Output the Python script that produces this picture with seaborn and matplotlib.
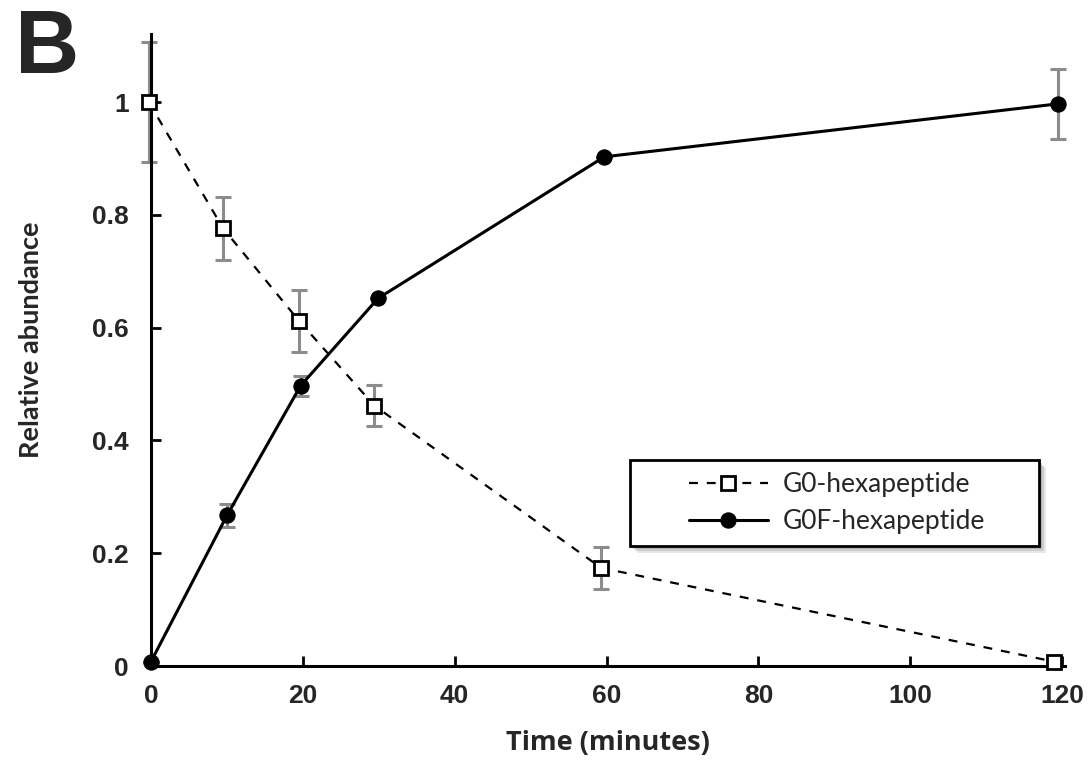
"""Relative abundance of G0 / G0F hexapeptide over time (panel B)."""

import matplotlib
matplotlib.use('Agg')
import numpy as np
import pandas as pd
import seaborn as sns
import matplotlib.pyplot as plt
import matplotlib.patches as patches

# ── Data ──────────────────────────────────────────────────────────────────────

TIME_G0 = [-0.3, 9.5, 19.5, 29.4, 59.3, 118.9]
G0_MEAN = [1.00, 0.776, 0.612, 0.462, 0.174, 0.008]
G0_ERR = [0.107, 0.056, 0.055, 0.037, 0.037, 0.0]

TIME_G0F = [0, 10, 19.7, 29.9, 59.7, 119.5]
G0F_MEAN = [0.008, 0.267, 0.497, 0.652, 0.903, 0.997]
G0F_ERR = [0.0, 0.02, 0.018, 0.0, 0.0, 0.062]

X_TICKS = [0, 20, 40, 60, 80, 100, 120]
Y_TICKS = [0, 0.2, 0.4, 0.6, 0.8, 1.0]
Y_TICK_LABELS = ['0', '0.2', '0.4', '0.6', '0.8', '1']

LABEL_G0 = 'G0-hexapeptide'
LABEL_G0F = 'G0F-hexapeptide'

# ── Plot ──────────────────────────────────────────────────────────────────────

sns.set_theme(style='white')
plt.rcParams['font.family'] = ['Liberation Sans', 'DejaVu Sans']

W, H = 1089, 766
fig = plt.figure(figsize=(W / 100, H / 100), dpi=100)
ax = fig.add_axes([0.1387, 0.1305, 0.8393, 0.8245])

df_g0 = pd.DataFrame({'t': TIME_G0, 'y': G0_MEAN})
df_g0f = pd.DataFrame({'t': TIME_G0F, 'y': G0F_MEAN})

# grey error bars first, behind the markers
ax.errorbar(TIME_G0, G0_MEAN, yerr=G0_ERR, fmt='none', ecolor='#8c8c8c',
            elinewidth=2.2, capsize=6, capthick=2.2, zorder=1, clip_on=False)
ax.errorbar(TIME_G0F, G0F_MEAN, yerr=G0F_ERR, fmt='none', ecolor='#8c8c8c',
            elinewidth=2.2, capsize=6, capthick=2.2, zorder=1, clip_on=False)

sns.lineplot(data=df_g0, x='t', y='y', ax=ax, color='black', lw=1.6,
             linestyle=(0, (4, 4)), marker='s', markersize=10,
             markerfacecolor='white', markeredgecolor='black',
             markeredgewidth=2, label=LABEL_G0, zorder=3, clip_on=False)
sns.lineplot(data=df_g0f, x='t', y='y', ax=ax, color='black', lw=2.2,
             marker='o', markersize=11, markerfacecolor='black',
             markeredgecolor='black', label=LABEL_G0F, zorder=3, clip_on=False)

ax.set_xlim(0, 120.4)
ax.set_ylim(0, 1.12)
ax.set_xticks(X_TICKS)
ax.set_yticks(Y_TICKS)
ax.set_yticklabels(Y_TICK_LABELS)

for s in ('top', 'right'):
    ax.spines[s].set_visible(False)
for s in ('left', 'bottom'):
    ax.spines[s].set_linewidth(2.2)
    ax.spines[s].set_color('black')

ax.tick_params(axis='both', direction='in', length=7, width=2, color='black',
               labelsize=19, left=True, bottom=True)
ax.tick_params(axis='x', pad=13)
ax.tick_params(axis='y', pad=16)
for lab in ax.get_xticklabels() + ax.get_yticklabels():
    lab.set_fontweight('bold')

ax.set_xlabel('Time (minutes)', fontsize=19.5, fontweight='bold',
              family=['Open Sans', 'DejaVu Sans'], labelpad=16)
ax.set_ylabel('Relative abundance', fontsize=19.5, fontweight='bold',
              family=['Lato', 'DejaVu Sans'])
ax.yaxis.set_label_coords(-0.118, 0.516)

# legend frame with a soft drop shadow, drawn in pixel units
bx0, bx1, by0, by1 = 630, 1039, 460, 546
for off, alpha in ((7, 0.18), (5, 0.25), (3, 0.35)):
    fig.add_artist(patches.Rectangle(
        ((bx0 + off) / W, 1 - (by1 + off) / H), (bx1 - bx0) / W, (by1 - by0) / H,
        transform=fig.transFigure, facecolor='#808080', edgecolor='none',
        alpha=alpha, zorder=4))
fig.add_artist(patches.Rectangle(
    (bx0 / W, 1 - by1 / H), (bx1 - bx0) / W, (by1 - by0) / H,
    transform=fig.transFigure, facecolor='white', edgecolor='black',
    linewidth=2.0, zorder=5))

ax.get_legend().remove()
handles, labels = ax.get_legend_handles_labels()
leg = fig.legend(handles, labels, loc='center',
                 bbox_to_anchor=((bx0 + bx1) / 2 / W + 0.002, 1 - (by0 + by1) / 2 / H),
                 frameon=False, handlelength=3.0, handletextpad=0.55,
                 labelspacing=0.45, borderpad=0.3,
                 prop={'family': ['Lato', 'DejaVu Sans'], 'size': 19})
leg.set_zorder(6)

fig.text(0.014, 0.99, 'B', fontsize=64, fontweight='bold', va='top', ha='left')

fig.savefig('out.png', dpi=100)
